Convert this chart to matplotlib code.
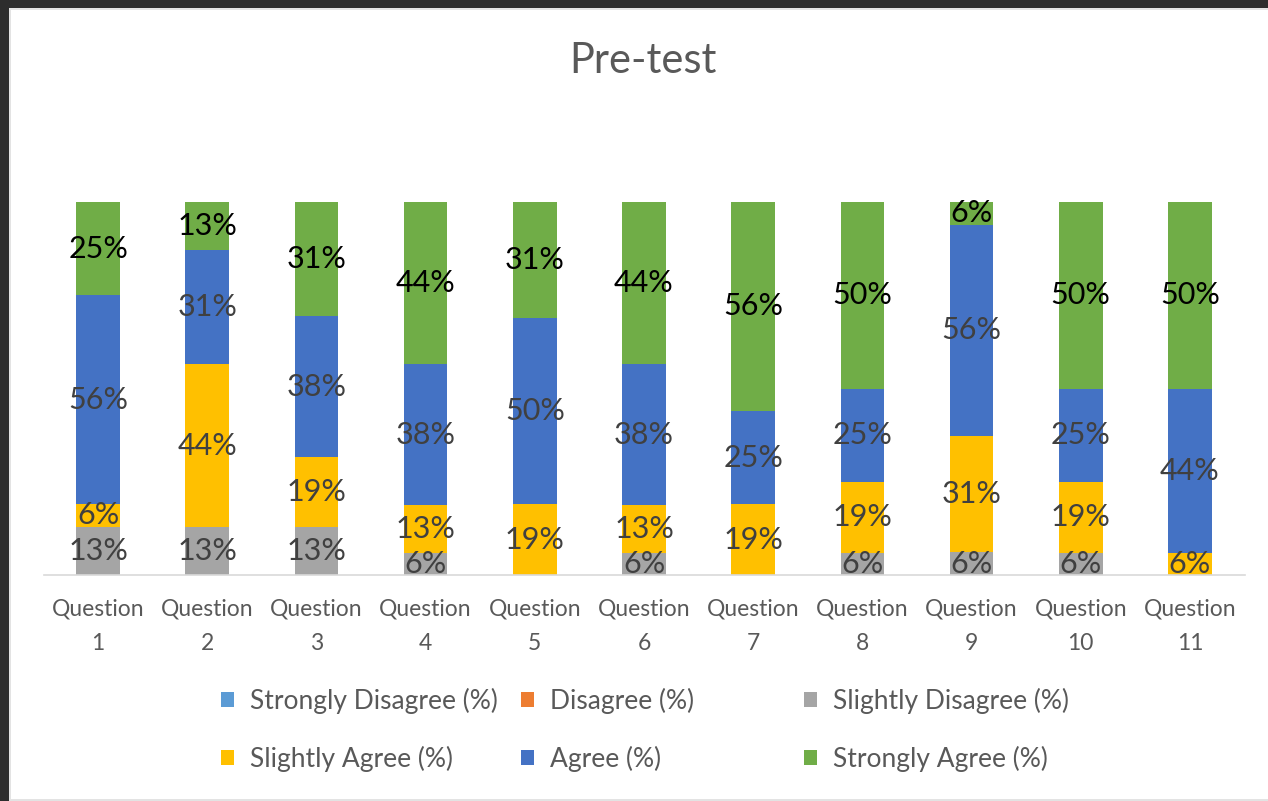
import matplotlib
matplotlib.use("Agg")
import matplotlib.pyplot as plt
from matplotlib.patches import Rectangle, Patch
import numpy as np

plt.rcParams['font.family'] = ['Lato', 'DejaVu Sans']

categories = ["Question\n1", "Question\n2", "Question\n3", "Question\n4", "Question\n5",
              "Question\n6", "Question\n7", "Question\n8", "Question\n9", "Question\n10",
              "Question\n11"]
series_names = ["Strongly Disagree (%)", "Disagree (%)", "Slightly Disagree (%)",
                "Slightly Agree (%)", "Agree (%)", "Strongly Agree (%)"]
strongly_disagree = [0, 0, 0, 0, 0, 0, 0, 0, 0, 0, 0]
disagree = [0, 0, 0, 0, 0, 0, 0, 0, 0, 0, 0]
slightly_disagree = [13, 13, 13, 6, 0, 6, 0, 6, 6, 6, 0]
slightly_agree = [6, 44, 19, 13, 19, 13, 19, 19, 31, 19, 6]
agree = [56, 31, 38, 38, 50, 38, 25, 25, 56, 25, 44]
strongly_agree = [25, 13, 31, 44, 31, 44, 56, 50, 6, 50, 50]
colors = ["#5B9BD5", "#ED7D31", "#A5A5A5", "#FFC000", "#4472C4", "#70AD47"]
label_colors = ["#404040", "#404040", "#404040", "#404040", "#404040", "#000000"]

series = [strongly_disagree, disagree, slightly_disagree, slightly_agree, agree, strongly_agree]
data = np.array(series, dtype=float)
totals = data.sum(axis=0)
shares = data / totals * 100.0  # 100% stacked

W, H = 1268, 801
fig = plt.figure(figsize=(W / 100, H / 100), dpi=100)
fig.patch.set_facecolor("white")

# screenshot frame
fig.add_artist(Rectangle((0, 1 - 8 / H), 1, 8 / H, transform=fig.transFigure,
                         facecolor="#2d2d2d", edgecolor="none", zorder=10))
fig.add_artist(Rectangle((0, 0), 9 / W, 1, transform=fig.transFigure,
                         facecolor="#2d2d2d", edgecolor="none", zorder=10))
fig.add_artist(Rectangle((9 / W, 1 - 10 / H), 1, 2 / H, transform=fig.transFigure,
                         facecolor="#e3e3e3", edgecolor="none", zorder=9))
fig.add_artist(Rectangle((9 / W, 0), 2 / W, 1 - 8 / H, transform=fig.transFigure,
                         facecolor="#e3e3e3", edgecolor="none", zorder=9))
fig.add_artist(Rectangle((9 / W, 0), 1, 2 / H, transform=fig.transFigure,
                         facecolor="#e3e3e3", edgecolor="none", zorder=9))

left, right = 43.5 / W, 1244.5 / W
bottom, top = (H - 575) / H, (H - 202) / H
ax = fig.add_axes([left, bottom, right - left, top - bottom])

x = np.arange(len(categories))
base = np.zeros(len(categories))
for i, (name, col) in enumerate(zip(series_names, colors)):
    bars = ax.bar(x, shares[i], width=0.4, bottom=base, color=col, label=name, zorder=2)
    labels = [f"{int(v)}%" if v > 0 else "" for v in data[i]]
    ax.bar_label(bars, labels=labels, label_type="center", color=label_colors[i],
                 fontsize=22)
    base += shares[i]

ax.set_xlim(-0.5, len(categories) - 0.5)
ax.set_ylim(0, 100)
ax.set_yticks([])
for s in ["top", "right", "left"]:
    ax.spines[s].set_visible(False)
ax.spines["bottom"].set_color("#d9d9d9")
ax.spines["bottom"].set_linewidth(1.2)
ax.set_xticks(x)
ax.set_xticklabels(categories, color="#595959", fontsize=16.5, linespacing=1.78)
ax.tick_params(axis="x", length=0, pad=17)

fig.text(643 / W, 1 - 61 / H, "Pre-test", ha="center", va="center",
         fontsize=30, color="#595959")

handles = [Patch(facecolor=c, edgecolor="none") for c in colors]
col_x = [221, 521, 804]
for ci in range(3):
    idx = [ci, ci + 3]
    leg = fig.legend([handles[j] for j in idx], [series_names[j] for j in idx],
                     loc="center left", bbox_to_anchor=(col_x[ci] / W, 1 - 730 / H),
                     frameon=False, fontsize=19, labelcolor="#595959",
                     handlelength=0.5, handleheight=0.5, handletextpad=0.6,
                     labelspacing=1.2, borderaxespad=0, borderpad=0)

fig.savefig("out.png", dpi=100, facecolor="white")
